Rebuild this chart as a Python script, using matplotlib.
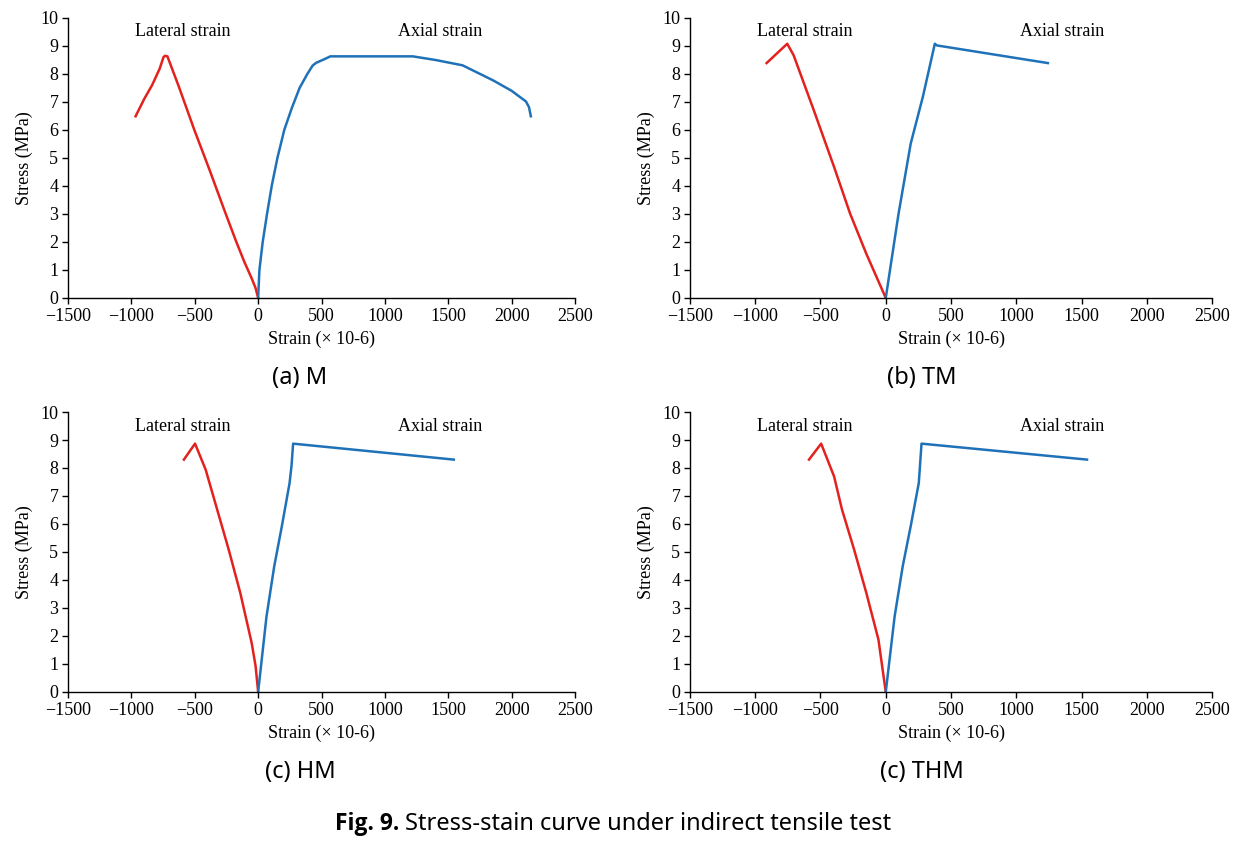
import matplotlib.pyplot as plt

# digitised curves, strain in 1e-6, stress in MPa
# (a) M
lat_a_x = [-967, -900, -837, -777, -747, -735, -716, -626, -505, -384, -262, -172, -110, -51, -20, 0]
lat_a_y = [6.49, 7.10, 7.60, 8.19, 8.60, 8.65, 8.63, 7.55, 6.02, 4.58, 3.08, 2.00, 1.30, 0.70, 0.35, 0.0]
ax_a_x = [0, 10, 36, 70, 107, 152, 206, 267, 327, 388, 430, 458, 509, 570, 800, 1000, 1220, 1400, 1613, 1855, 2000, 2113, 2137, 2152]
ax_a_y = [0.0, 1.0, 2.0, 3.0, 4.0, 5.0, 6.0, 6.8, 7.5, 8.0, 8.3, 8.4, 8.5, 8.63, 8.63, 8.63, 8.63, 8.50, 8.31, 7.77, 7.40, 7.02, 6.82, 6.49]

# (b) TM
lat_b_x = [-913, -755, -706, -551, -396, -273, -149, 0]
lat_b_y = [8.39, 9.08, 8.67, 6.70, 4.68, 3.01, 1.58, 0.0]
ax_b_x = [0, 98, 191, 284, 376, 392, 1242]
ax_b_y = [0.0, 3.01, 5.51, 7.18, 9.08, 9.02, 8.39]

# (c) HM
lat_c_x = [-586, -498, -414, -323, -232, -141, -51, -20, 0]
lat_c_y = [8.30, 8.87, 7.94, 6.51, 5.08, 3.54, 1.75, 0.92, 0.0]
ax_c_x = [0, 66, 127, 187, 248, 263, 276, 1544]
ax_c_y = [0.0, 2.70, 4.49, 5.92, 7.46, 8.06, 8.87, 8.30]

# (d) THM
lat_d_x = [-588, -495, -396, -335, -242, -149, -56, 0]
lat_d_y = [8.30, 8.87, 7.70, 6.51, 5.08, 3.54, 1.87, 0.0]
ax_d_x = [0, 68, 130, 191, 253, 262, 274, 1542]
ax_d_y = [0.0, 2.70, 4.49, 5.92, 7.46, 8.06, 8.87, 8.30]

panel_titles = ['(a) M', '(b) TM', '(c) HM', '(c) THM']
x_ticks = [-1500, -1000, -500, 0, 500, 1000, 1500, 2000, 2500]
y_ticks = list(range(0, 11))

lateral = [(lat_a_x, lat_a_y), (lat_b_x, lat_b_y), (lat_c_x, lat_c_y), (lat_d_x, lat_d_y)]
axial = [(ax_a_x, ax_a_y), (ax_b_x, ax_b_y), (ax_c_x, ax_c_y), (ax_d_x, ax_d_y)]

RED = '#e3211f'
BLUE = '#1f72b8'
serif = 'Liberation Serif'

fig = plt.figure(figsize=(12.33, 8.41), dpi=100)

# axes boxes in figure fractions [left, bottom, width, height]
boxes = [
    [0.0552, 0.6457, 0.4111, 0.3329],
    [0.5596, 0.6457, 0.4234, 0.3329],
    [0.0552, 0.1772, 0.4111, 0.3329],
    [0.5596, 0.1772, 0.4234, 0.3329],
]
lat_label_x = [-593, -619, -593, -619]
ax_label_x = [1435, 1351, 1435, 1351]

for i, box in enumerate(boxes):
    ax = fig.add_axes(box)
    ax.plot(*lateral[i], color=RED, lw=1.8, solid_joinstyle='round')
    ax.plot(*axial[i], color=BLUE, lw=1.8, solid_joinstyle='round')
    ax.set_xlim(-1500, 2500)
    ax.set_ylim(0, 10)
    ax.set_xticks(x_ticks)
    ax.set_yticks(y_ticks)
    ax.set_xticklabels([str(t).replace('-', '\u2212') for t in x_ticks], fontfamily=serif, fontsize=13)
    ax.set_yticklabels([str(t) for t in y_ticks], fontfamily=serif, fontsize=13)
    ax.tick_params(direction='out', length=4, width=1, pad=3)
    for s in ['top', 'right']:
        ax.spines[s].set_visible(False)
    for s in ['left', 'bottom']:
        ax.spines[s].set_color('black')
        ax.spines[s].set_linewidth(1.0)
    ax.set_xlabel('Strain (\u00d7 10-6)', fontfamily=serif, fontsize=13, labelpad=4)
    ax.set_ylabel('Stress (MPa)', fontfamily=serif, fontsize=13, labelpad=5)
    ax.text(lat_label_x[i], 9.5, 'Lateral strain', ha='center', va='center', fontfamily=serif, fontsize=13)
    ax.text(ax_label_x[i], 9.5, 'Axial strain', ha='center', va='center', fontfamily=serif, fontsize=13)

# panel captions
cap_pos = [(300, 378), (922, 378), (300, 772), (922, 772)]
for (px, py), t in zip(cap_pos, panel_titles):
    fig.text(px / 1233, 1 - py / 841, t, ha='center', va='center', fontfamily='Noto Sans', fontsize=17)

# figure caption: bold "Fig. 9." followed by regular text
cap_y = 1 - 824 / 841
t1 = fig.text(335 / 1233, cap_y, 'Fig. 9.', ha='left', va='center', fontfamily='Open Sans',
              fontsize=16.5, fontweight='bold')
r = fig.canvas.get_renderer()
bb = t1.get_window_extent(renderer=r)
fig.text((bb.x1 + 6) / 1233, cap_y, 'Stress-stain curve under indirect tensile test', ha='left', va='center',
         fontfamily='Noto Sans', fontsize=17)

fig.savefig('out.png', dpi=100)
